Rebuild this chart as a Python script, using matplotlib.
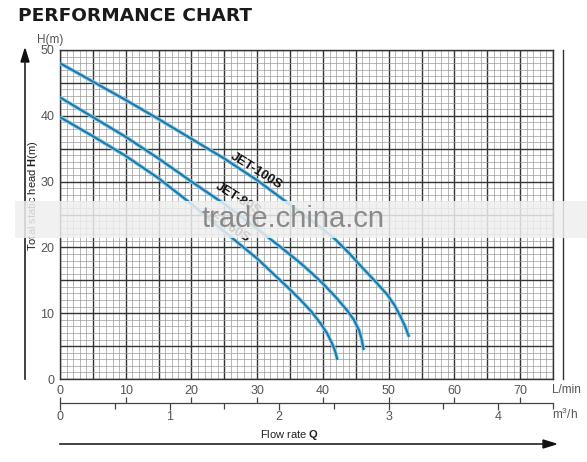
import numpy as np
import matplotlib.pyplot as plt
from matplotlib.patches import Rectangle

plt.rcParams['font.family'] = ['Liberation Sans', 'DejaVu Sans']
plt.rcParams['mathtext.fontset'] = 'custom'
plt.rcParams['mathtext.rm'] = 'Liberation Sans'
plt.rcParams['mathtext.bf'] = 'Liberation Sans:bold'

# curves: flow (L/min) vs head (m)
q_100 = [0, 5, 10, 15, 20, 25, 30, 35, 38.5, 41.7, 44, 46.2, 48, 49.8, 50.9, 51.8, 52.5, 53.1]
h_100 = [48, 45.2, 42.4, 39.5, 36.5, 33.5, 30.2, 26.5, 23.9, 21.4, 19.1, 16.7, 14.8, 12.8, 11.2, 9.5, 8.0, 6.4]

q_80 = [0, 5, 10, 15, 20, 25, 29, 33.5, 36.6, 38.4, 40.1, 42, 43.7, 44.7, 45.5, 45.9, 46.2]
h_80 = [42.8, 39.8, 36.8, 33.5, 30.0, 26.6, 23.6, 20.1, 17.6, 16.0, 14.4, 12.4, 10.4, 9.0, 7.4, 6.0, 4.4]

q_60 = [0, 5, 10, 15, 20, 25, 30, 33.5, 35, 36.6, 38.2, 39.6, 40.6, 41.4, 41.9, 42.2]
h_60 = [39.8, 36.9, 33.9, 30.5, 26.6, 22.4, 18.3, 15.0, 13.6, 12.0, 10.3, 8.5, 7.0, 5.4, 4.1, 2.9]

models = ['JET-100S', 'JET-80S', 'JET-60S']
label_pos = [(29.9, 31.6), (27.1, 27.4), (25.4, 23.3)]

lmin_ticks = [0, 10, 20, 30, 40, 50, 60, 70]
m3h_ticks = [0, 1, 2, 3, 4]
m3h_minor = [0.5, 1.5, 2.5, 3.5, 4.5]
h_ticks = [0, 10, 20, 30, 40, 50]

W, H = 587, 462
fig = plt.figure(figsize=(5.87, 4.62), dpi=100)

def fx(px):
    return px / W

def fy(py):
    return 1 - py / H

ax = fig.add_axes([fx(60), fy(379), fx(553) - fx(60), fy(50) - fy(379)])
ax.set_xlim(0, 75)
ax.set_ylim(0, 50)

# graph paper
for v in range(0, 76):
    major = v % 5 == 0
    ax.axvline(v, color='#333333' if major else '#9a9a9a',
               lw=1.0 if major else 0.5, zorder=1)
for v in range(0, 51):
    major = v % 5 == 0
    ax.axhline(v, color='#333333' if major else '#9a9a9a',
               lw=1.0 if major else 0.5, zorder=1)

for q, h in [(q_100, h_100), (q_80, h_80), (q_60, h_60)]:
    ax.plot(q, h, color='#8fd0ec', lw=2.8, solid_capstyle='butt',
            solid_joinstyle='round', zorder=3)
    ax.plot(q, h, color='#1f78a8', lw=1.5, solid_capstyle='butt',
            solid_joinstyle='round', zorder=4)

for name, (x, y) in zip(models, label_pos):
    ax.text(x, y, name, rotation=-32, ha='center', va='center',
            fontsize=9.5, fontweight='bold', color='#111111', zorder=5)

for s in ax.spines.values():
    s.set_color('#333333')
    s.set_linewidth(1.0)

ax.set_xticks(lmin_ticks)
ax.set_yticks(h_ticks)
ax.tick_params(length=0, labelsize=9, labelcolor='#555555', pad=4)

# m3/h scale under the L/min axis
ax2 = fig.add_axes([fx(60), fy(403), fx(553) - fx(60), 0.0001])
ax2.set_xlim(0, 75)
ax2.set_yticks([])
for side in ['top', 'left', 'right']:
    ax2.spines[side].set_visible(False)
ax2.spines['bottom'].set_color('#444444')
ax2.spines['bottom'].set_linewidth(0.9)
ax2.set_xticks([m * 1000 / 60 for m in m3h_ticks])
ax2.set_xticklabels([str(m) for m in m3h_ticks])
ax2.set_xticks([m * 1000 / 60 for m in m3h_minor], minor=True)
ax2.tick_params(axis='x', which='major', length=5, width=0.9, color='#444444',
                labelsize=9, labelcolor='#555555', pad=1)
ax2.tick_params(axis='x', which='minor', length=4, width=0.9, color='#444444')
ax2.patch.set_visible(False)
sec = ax2.secondary_xaxis('top')
sec.set_xticks(lmin_ticks)
sec.set_xticklabels([])
sec.tick_params(length=4, width=0.9, color='#444444')
sec.spines['top'].set_visible(False)

# decorations
fig.text(fx(18), fy(16), 'PERFORMANCE CHART', fontsize=13.3, fontweight='bold',
         family='DejaVu Sans', color='#1a1a1a', ha='left', va='center')
fig.text(fx(50), fy(40), 'H(m)', fontsize=8.5, color='#555555', ha='center', va='center')
fig.text(fx(566), fy(390), 'L/min', fontsize=8.5, color='#555555', ha='center', va='center')
fig.text(fx(565), fy(414), 'm$^3$/h', fontsize=8.5, color='#555555', ha='center', va='center')
fig.text(fx(290), fy(435), r'Flow rate $\mathbf{Q}$', fontsize=8, color='#222222',
         ha='center', va='center')
fig.text(fx(33), fy(196), r'Total static head $\mathbf{H}$(m)', fontsize=8,
         color='#222222', rotation=90, ha='center', va='center')

fig.add_artist(plt.Line2D([fx(563), fx(563)], [fy(50), fy(379)], color='#333333', lw=1.0))
fig.add_artist(plt.Line2D([fx(25), fx(25)], [fy(62), fy(379)], color='#222222', lw=1.2))
fig.add_artist(plt.Polygon([[fx(25), fy(49)], [fx(21), fy(62)], [fx(29), fy(62)]],
                           closed=True, color='#111111'))
fig.add_artist(plt.Line2D([fx(60), fx(543)], [fy(444), fy(444)], color='#222222', lw=1.2))
fig.add_artist(plt.Polygon([[fx(556), fy(444)], [fx(543), fy(440)], [fx(543), fy(448)]],
                           closed=True, color='#111111'))

# watermark band
fig.add_artist(Rectangle((fx(15), fy(238)), fx(587) - fx(15), fy(201) - fy(238),
                         facecolor='#efefef', alpha=0.85, edgecolor='none', zorder=10))
fig.text(fx(293), fy(219), 'trade.china.cn', fontsize=21, color='#8a8a8a',
         ha='center', va='center', zorder=11)

fig.savefig('out.png', dpi=100)
